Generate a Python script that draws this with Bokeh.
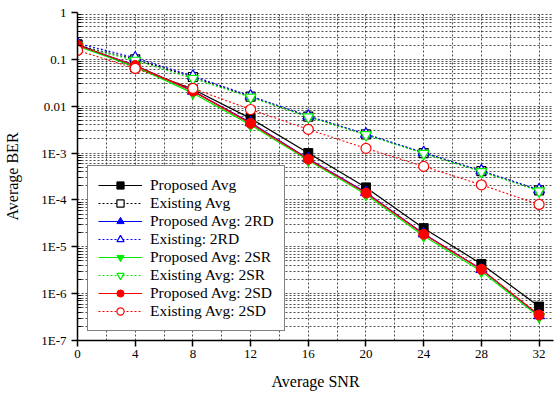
from bokeh.plotting import figure
from bokeh.models import Range1d, FixedTicker, CustomJSTickFormatter, Legend
from bokeh.embed import file_html
from bokeh.resources import INLINE

# ---- data ----
snr = [0, 4, 8, 12, 16, 20, 24, 28, 32]
proposed_avg = [0.21, 0.068, 0.023, 0.0055, 1.0e-3, 1.85e-4, 2.5e-5, 4.3e-6, 5.3e-7]
existing_avg = [0.20, 0.10, 0.042, 0.016, 6.0e-3, 2.5e-3, 1.0e-3, 4.1e-4, 1.6e-4]
proposed_2rd = [0.20, 0.075, 0.021, 0.0045, 7.6e-4, 1.45e-4, 1.9e-5, 3.3e-6, 3.4e-7]
existing_2rd = [0.22, 0.108, 0.044, 0.0165, 6.2e-3, 2.55e-3, 1.03e-3, 4.2e-4, 1.65e-4]
proposed_2sr = [0.19, 0.070, 0.019, 0.0040, 7.0e-4, 1.3e-4, 1.7e-5, 3.0e-6, 3.2e-7]
existing_2sr = [0.19, 0.095, 0.039, 0.0155, 5.9e-3, 2.45e-3, 9.8e-4, 4.0e-4, 1.55e-4]
proposed_2sd = [0.20, 0.074, 0.021, 0.0043, 7.4e-4, 1.4e-4, 1.85e-5, 3.3e-6, 3.5e-7]
existing_2sd = [0.155, 0.064, 0.024, 0.0085, 3.2e-3, 1.26e-3, 5.2e-4, 2.1e-4, 8.0e-5]

x_ticks = [0, 4, 8, 12, 16, 20, 24, 28, 32]
x_minor = [2, 6, 10, 14, 18, 22, 26, 30]
y_ticks = [1e-7, 1e-6, 1e-5, 1e-4, 1e-3, 1e-2, 1e-1, 1.0]
y_tick_labels = ["1E-7", "1E-6", "1E-5", "1E-4", "1E-3", "0.01", "0.1", "1"]
y_minor = [k * t for t in y_ticks[:-1] for k in range(2, 10)]

FONT = "Liberation Serif"

p = figure(width=557, height=394,
           x_range=Range1d(0, 33), y_range=Range1d(1e-7, 1),
           y_axis_type="log", output_backend="svg", toolbar_location=None,
           min_border_left=77, min_border_right=4, min_border_top=12, min_border_bottom=54)
p.outline_line_color = None
p.background_fill_color = "white"

xt = FixedTicker(ticks=x_ticks, minor_ticks=x_minor)
yt = FixedTicker(ticks=y_ticks, minor_ticks=y_minor)
p.xaxis.ticker = xt
p.yaxis.ticker = yt
p.xgrid.ticker = xt
p.ygrid.ticker = yt
p.yaxis.formatter = CustomJSTickFormatter(args=dict(yvals=y_ticks, ylabels=y_tick_labels), code="""
const i = yvals.findIndex(t => Math.abs(Math.log10(t) - Math.log10(tick)) < 1e-6);
return i >= 0 ? ylabels[i] : '';
""")

for g in (p.xgrid, p.ygrid):
    g.grid_line_color = "#222222"
    g.grid_line_dash = "2 2"
    g.grid_line_width = 1
    g.grid_line_alpha = 0.8
    g.minor_grid_line_color = "#222222"
    g.minor_grid_line_dash = "2 2"
    g.minor_grid_line_alpha = 0.8

for ax in (p.xaxis, p.yaxis):
    ax.axis_line_width = 1.5
    ax.axis_line_color = "black"
    ax.major_tick_line_color = "black"
    ax.major_tick_line_width = 1.5
    ax.major_tick_out = 6
    ax.major_tick_in = 0
    ax.major_label_text_font = FONT
    ax.major_label_text_font_size = "13px"
    ax.major_label_text_color = "black"
    ax.axis_label_text_font = FONT
    ax.axis_label_text_font_size = "16px"
    ax.axis_label_text_font_style = "normal"
    ax.axis_label_text_color = "black"
p.xaxis.minor_tick_line_color = None
p.yaxis.minor_tick_in = 4
p.yaxis.minor_tick_out = 0
p.yaxis.minor_tick_line_color = "black"
p.xaxis.major_label_standoff = 3
p.yaxis.major_label_standoff = 5
p.xaxis.axis_label = "Average SNR"
p.yaxis.axis_label = "Average BER"
p.xaxis.axis_label_standoff = 12
p.yaxis.axis_label_standoff = 17

series = [
    ("Proposed Avg", proposed_avg, "black", "square", True, 9),
    ("Existing Avg", existing_avg, "black", "square", False, 9),
    ("Proposed Avg: 2RD", proposed_2rd, "blue", "triangle", True, 11),
    ("Existing: 2RD", existing_2rd, "blue", "triangle", False, 11),
    ("Proposed Avg: 2SR", proposed_2sr, "#00ee00", "inverted_triangle", True, 11),
    ("Existing Avg: 2SR", existing_2sr, "#00ee00", "inverted_triangle", False, 11),
    ("Proposed Avg: 2SD", proposed_2sd, "red", "circle", True, 10),
    ("Existing Avg: 2SD", existing_2sd, "red", "circle", False, 10),
]

legend_items = []
for name, vals, col, mk, filled, sz in series:
    if filled:
        ln = p.line(snr, vals, line_color=col, line_width=1.2)
        sc = p.scatter(snr, vals, marker=mk, size=sz, fill_color=col, line_color=col)
    else:
        ln = p.line(snr, vals, line_color=col, line_width=1.1, line_dash="2 2")
        sc = p.scatter(snr, vals, marker=mk, size=sz, fill_color="white", line_color=col, line_width=1.2)
    legend_items.append((name, [ln, sc]))

legend = Legend(items=legend_items, location=(10, 9))
legend.label_text_font = FONT
legend.label_text_font_size = "15.5px"
legend.label_text_color = "black"
legend.glyph_width = 44
legend.glyph_height = 18
legend.label_height = 18
legend.spacing = 0
legend.padding = 10
legend.margin = 0
legend.label_standoff = 8
legend.border_line_color = "black"
legend.border_line_width = 1.5
legend.background_fill_color = "white"
legend.background_fill_alpha = 1.0
p.add_layout(legend, "center")

open("out.html", "w").write(file_html(p, INLINE))
